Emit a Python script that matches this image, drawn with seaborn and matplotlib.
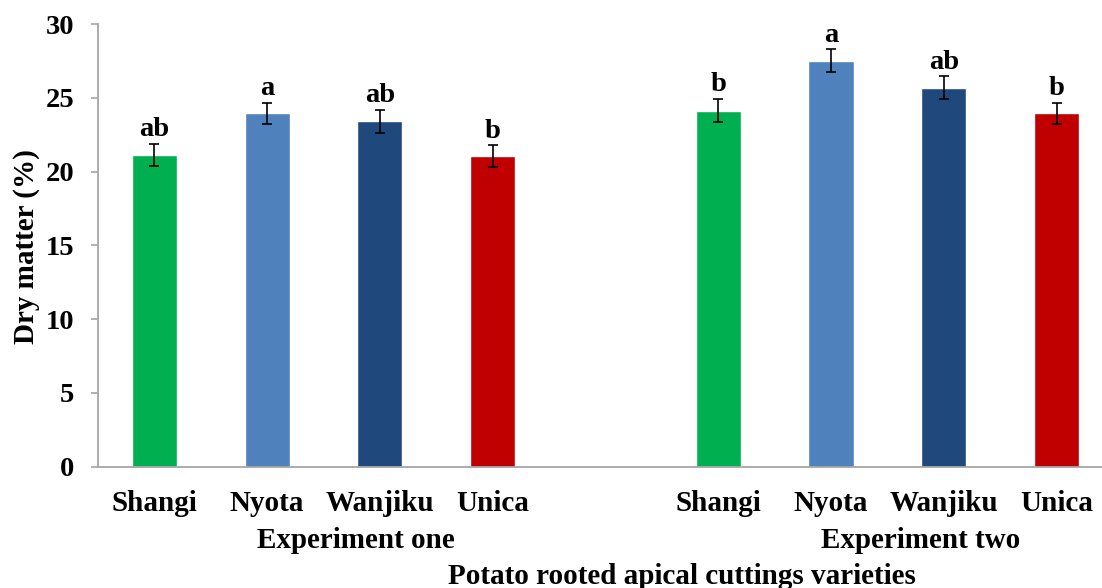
import matplotlib
matplotlib.use("Agg")
import matplotlib.pyplot as plt
import matplotlib.transforms as mtransforms
import pandas as pd
import seaborn as sns

# Dry matter (%) of potato rooted apical cuttings, two experiments
varieties = ["Shangi", "Nyota", "Wanjiku", "Unica"]
experiments = ["Experiment one", "Experiment two"]

exp_one_mean = [21.13, 23.94, 23.40, 21.06]
exp_one_se = [0.74, 0.74, 0.80, 0.73]
exp_one_letters = ["ab", "a", "ab", "b"]

exp_two_mean = [24.12, 27.51, 25.68, 23.94]
exp_two_se = [0.79, 0.77, 0.77, 0.74]
exp_two_letters = ["b", "a", "ab", "b"]

colors = ["#00B050", "#4F81BD", "#1F497D", "#C00000"]

y_ticks = [0, 5, 10, 15, 20, 25, 30]

rows = []
for exp, means, ses, lets in [
    (experiments[0], exp_one_mean, exp_one_se, exp_one_letters),
    (experiments[1], exp_two_mean, exp_two_se, exp_two_letters),
]:
    for v, m, s, l in zip(varieties, means, ses, lets):
        rows.append(dict(experiment=exp, variety=v, slot=f"{exp}|{v}",
                         dry=m, se=s, letter=l))
df = pd.DataFrame(rows)

# one empty slot separates the two experiments
spacer = "|"
order = (list(df.slot[df.experiment == experiments[0]]) + [spacer]
         + list(df.slot[df.experiment == experiments[1]]))
pos = {s: i for i, s in enumerate(order)}
df["x"] = df.slot.map(pos)

sns.set_style("white")
plt.rcParams["font.family"] = ["Liberation Serif", "DejaVu Serif"]
plt.rcParams["font.weight"] = "bold"
plt.rcParams["text.color"] = "black"
plt.rcParams["xtick.labelcolor"] = "black"
plt.rcParams["ytick.labelcolor"] = "black"

W, H = 1102, 588
fig = plt.figure(figsize=(W / 100, H / 100), dpi=100)
ax = fig.add_axes([98 / W, 1 - 466.8 / H, 1015 / W, (466.8 - 24) / H])

sns.barplot(data=df, x="slot", y="dry", hue="variety", order=order,
            hue_order=varieties, palette=dict(zip(varieties, colors)),
            dodge=False, width=0.4, errorbar=None, saturation=1,
            legend=False, ax=ax)

ax.errorbar(df.x, df.dry, yerr=df.se, fmt="none", ecolor="black",
            elinewidth=1.2, capsize=3.6, capthick=1.2, zorder=5)

for _, r in df.iterrows():
    ax.annotate(r.letter, (r.x, r.dry + r.se), xytext=(0, 5.5),
                textcoords="offset points", ha="center", va="baseline",
                fontsize=20.5, fontweight="bold", color="black")

ax.set_xlim(-0.5, 8.5)
ax.set_ylim(0, 30)
ax.set_yticks(y_ticks)
ax.set_yticklabels([str(t) for t in y_ticks])
ax.set_xticks(range(len(order)))
ax.set_xticklabels([s.split("|")[1] for s in order])
ax.set_xlabel("")
ax.set_ylabel("")

spine_color = "#A6A6A6"
for side in ["top", "right"]:
    ax.spines[side].set_visible(False)
for side in ["left", "bottom"]:
    ax.spines[side].set_color(spine_color)
    ax.spines[side].set_linewidth(1.3)

ax.tick_params(axis="x", length=0, pad=17, labelsize=21, labelcolor="black")
ax.tick_params(axis="y", length=5, width=1.2, color=spine_color, pad=12,
               labelsize=20.5, left=True, labelcolor="black")
for lab in ax.get_xticklabels() + ax.get_yticklabels():
    lab.set_fontweight("bold")

# experiment names under each group of varieties
trans = mtransforms.blended_transform_factory(ax.transData, fig.transFigure)
for exp in experiments:
    first = df.x[df.experiment == exp].min()
    ax.text(first + 1.79, 1 - 548 / H, exp, transform=trans, ha="center",
            va="baseline", fontsize=21, fontweight="bold", color="black")

fig.text(27 / W, 1 - 247 / H, "Dry matter (%)", rotation=90, ha="center",
         va="center", fontsize=21, fontweight="bold", color="black")
fig.text(681.7 / W, 1 - 584 / H, "Potato rooted apical cuttings varieties",
         ha="center", va="baseline", fontsize=21, fontweight="bold",
         color="black")

fig.savefig("out.png", dpi=100)
